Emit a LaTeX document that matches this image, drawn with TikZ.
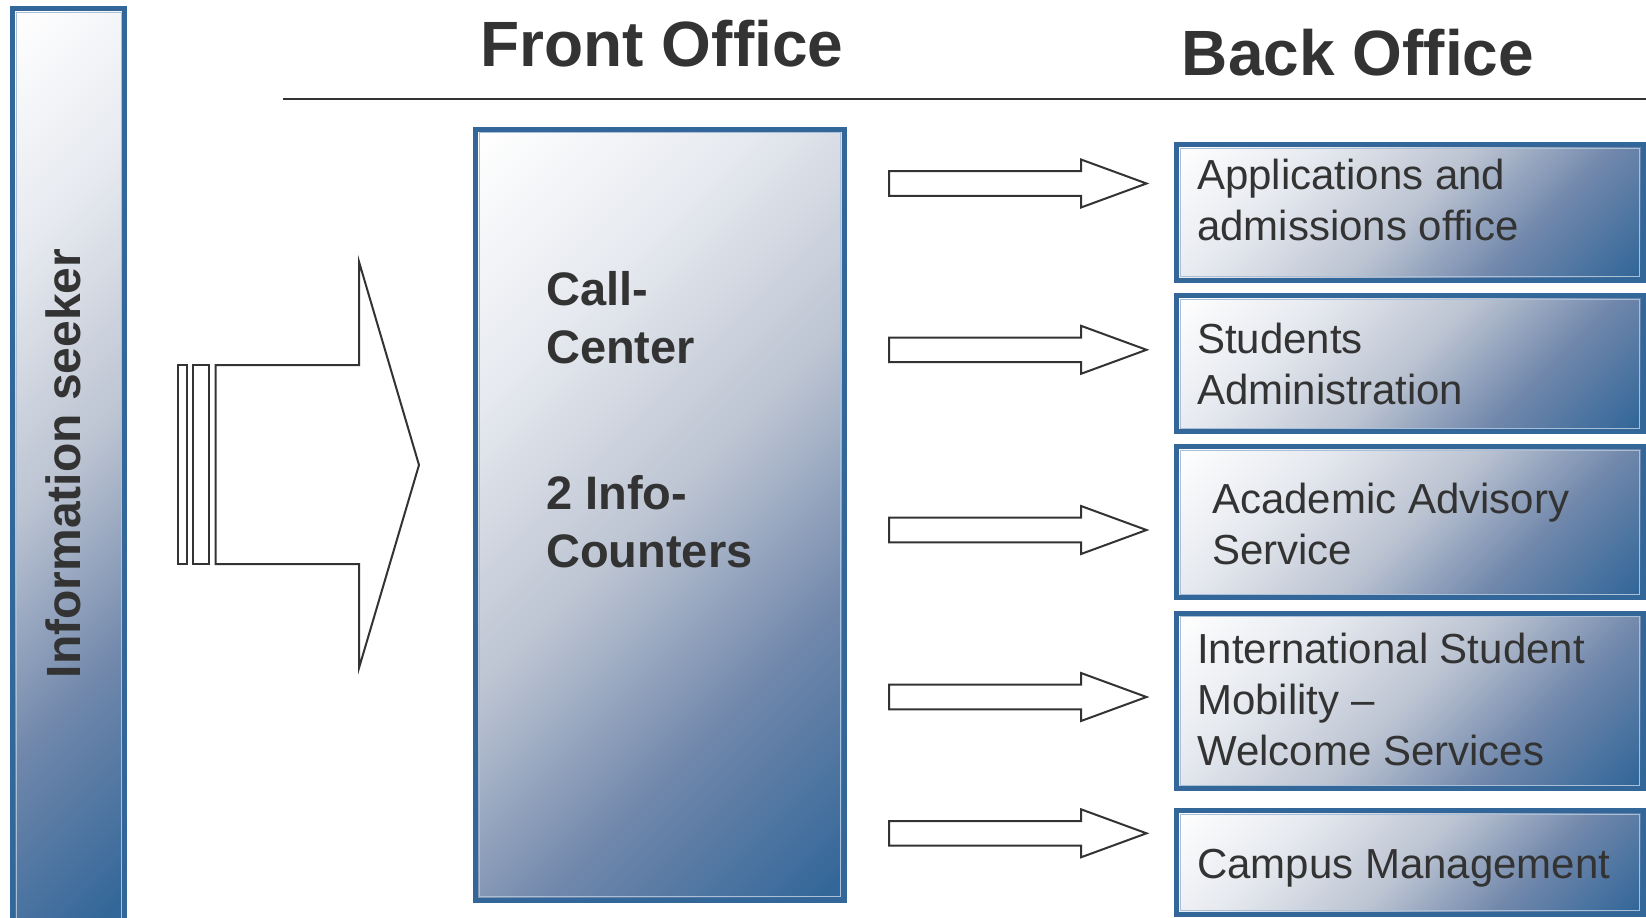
\documentclass[tikz,border=0pt]{standalone}
\usepackage{fontspec}
\setmainfont{Liberation Sans}
\definecolor{boxblue}{RGB}{51,103,153}
\definecolor{shA}{RGB}{230,233,239}
\definecolor{shB}{RGB}{188,196,210}
\definecolor{shC}{RGB}{112,135,171}
\definecolor{txt}{RGB}{51,51,51}
\definecolor{innerc}{RGB}{170,190,214}
\pgfdeclarehorizontalshading{boxshade}{100bp}{color(0bp)=(white); color(15bp)=(white); color(32bp)=(shA); color(50bp)=(shB); color(67bp)=(shC); color(84bp)=(boxblue); color(100bp)=(boxblue)}
\begin{document}
\begin{tikzpicture}[x=1pt,y=-1pt,
  boxst/.style={draw=boxblue, line width=5pt, shading=boxshade, shading angle=-45, inner sep=0pt, outer sep=0pt, anchor=north west},
  innerln/.style={draw=innerc, line width=1pt},
  lbl/.style={text=txt, inner sep=0pt, anchor=base west, font=\fontsize{42}{51}\selectfont},
  fronttxt/.style={text=txt, inner sep=0pt, anchor=base west, font=\bfseries\fontsize{47}{58}\selectfont},
  heading/.style={text=txt, inner sep=0pt, anchor=base, font=\bfseries\fontsize{64}{70}\selectfont},
  blockarrow/.style={draw=txt, line width=2pt, fill=white, line join=miter}]
\clip (0,0) rectangle (1646,918);
\fill[white] (0,0) rectangle (1646,918);

% Information seeker bar
\node[boxst, minimum width=112pt, minimum height=913pt] (seek) at (12.5,8.5) {};
\draw[innerln] ([shift={(3.5,3.5)}]seek.north west) rectangle ([shift={(-3.5,-3.5)}]seek.south east);
\node[rotate=90, anchor=base, text=txt, inner sep=0pt, font=\bfseries\fontsize{48}{58}\selectfont] (seektxt) at (80.8,463.5) {Information seeker};

% headings and rule
\node[heading] (fo) at (662,66) {Front Office};
\node[heading] (bo) at (1358,75.6) {Back Office};
\coordinate (hl) at (283,98.7);
\coordinate (hr) at (1646,98.7);
\draw[txt, line width=2pt] (hl) -- (hr);

% big arrow
\draw[blockarrow] (178.3,365) rectangle (186.7,564);
\draw[blockarrow] (193.3,365) rectangle (209.3,564);
\draw[blockarrow] (215.7,365) -- (359,365) -- (359,261.7) -- (419,465) -- (359,668) -- (359,564) -- (215.7,564) -- cycle;

% front office box
\node[boxst, minimum width=368.2pt, minimum height=771pt] (front) at (475.9,129.2) {};
\draw[innerln] ([shift={(3.5,3.5)}]front.north west) rectangle ([shift={(-3.5,-3.5)}]front.south east);
\node[fronttxt] (cc) at (546,305.5) {\begin{tabular}[t]{@{}l@{}}Call-\\Center\end{tabular}};
\node[fronttxt] (ic) at (546,509) {\begin{tabular}[t]{@{}l@{}}2 Info-\\Counters\end{tabular}};

% small arrows
\foreach \c in {183.5,349.8,530,697,833.3}{
  \draw[blockarrow] (889,\c-12.3) -- (1081,\c-12.3) -- (1081,\c-24) -- (1146.5,\c) -- (1081,\c+24) -- (1081,\c+12.3) -- (889,\c+12.3) -- cycle;
}

% back office boxes
\node[boxst, minimum width=466.3pt, minimum height=135.4pt] (b1) at (1176.7,144.8) {};
\node[boxst, minimum width=466.3pt, minimum height=136.3pt] (b2) at (1176.7,295.5) {};
\node[boxst, minimum width=466.3pt, minimum height=151pt] (b3) at (1176.7,446.5) {};
\node[boxst, minimum width=466.3pt, minimum height=175.3pt] (b4) at (1176.7,613.2) {};
\node[boxst, minimum width=466.3pt, minimum height=103.4pt] (b5) at (1176.7,810.8) {};
\foreach \b in {b1,b2,b3,b4,b5}{
  \draw[innerln] ([shift={(3.5,3.5)}]\b.north west) rectangle ([shift={(-3.5,-3.5)}]\b.south east);
}
\node[lbl] (t1) at (1197,189.5) {\begin{tabular}[t]{@{}l@{}}Applications and\\admissions office\end{tabular}};
\node[lbl] (t2) at (1197,353.5) {\begin{tabular}[t]{@{}l@{}}Students\\Administration\end{tabular}};
\node[lbl] (t3) at (1212,513.5) {\begin{tabular}[t]{@{}l@{}}Academic Advisory\\Service\end{tabular}};
\node[lbl] (t4) at (1197,663.5) {\begin{tabular}[t]{@{}l@{}}International Student\\Mobility –\\Welcome Services\end{tabular}};
\node[lbl] (t5) at (1197,878.5) {Campus Management};
\end{tikzpicture}
\end{document}
